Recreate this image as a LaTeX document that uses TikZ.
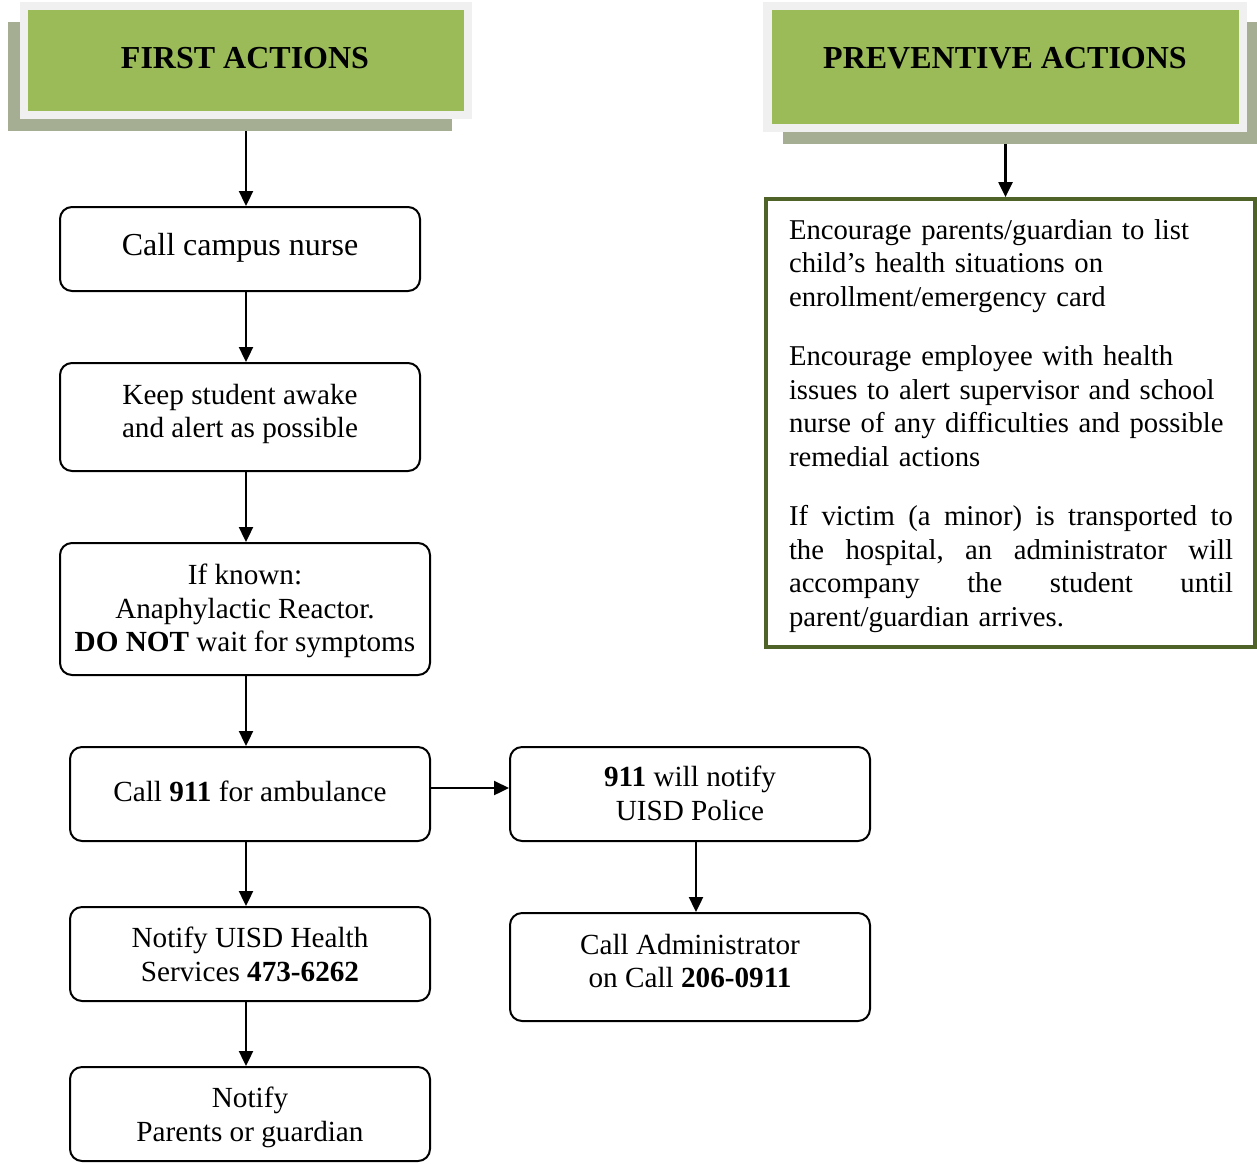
\documentclass[tikz,border=0pt]{standalone}
\usepackage{fontspec}
\setmainfont{Liberation Serif}
\usetikzlibrary{arrows.meta}
\definecolor{hdrgreen}{HTML}{9BBB59}
\definecolor{hdrframe}{HTML}{F0F0F0}
\definecolor{hdrshadow}{HTML}{A5AD93}
\definecolor{olivedark}{HTML}{4F6228}
\newcommand{\bodysize}{\fontsize{29.2}{33.7}\selectfont}
\newcommand{\notesize}{\fontsize{28.7}{33.7}\selectfont}
\newcommand{\fullline}[1]{\leavevmode\hbox to 444pt{#1}}
\begin{document}
\begin{tikzpicture}[x=1pt,y=-1pt,
  stepbox/.style={draw, line width=2pt, rounded corners=12pt, inner sep=0pt},
  steptext/.style={align=center, inner sep=0pt, font=\bodysize},
  hdrshade/.style={fill=hdrshadow, inner sep=0pt},
  hdrrim/.style={fill=hdrframe, inner sep=0pt},
  hdrfill/.style={fill=hdrgreen, inner sep=0pt},
  hdrtext/.style={font=\bfseries\fontsize{32}{38}\selectfont, inner sep=0pt},
  arr/.style={line width=2.3pt, -{Triangle[length=15pt,width=14pt]}}]
\useasboundingbox (0,0) rectangle (1257,1163);

% header: first actions
\node[hdrshade, minimum width=444pt, minimum height=109pt] (h1s) at (230,76.5) {};
\node[hdrrim, minimum width=452pt, minimum height=117pt] (h1f) at (246,60.5) {};
\node[hdrfill, minimum width=436pt, minimum height=101pt] (h1) at (246,60.5) {};
\node[hdrtext] (t1) at (245,58) {FIRST ACTIONS};

% header: preventive actions
\node[hdrshade, minimum width=474pt, minimum height=122pt] (h2s) at (1020,83) {};
\node[hdrrim, minimum width=484pt, minimum height=130pt] (h2f) at (1005,67) {};
\node[hdrfill, minimum width=467pt, minimum height=114pt] (h2) at (1005.5,67) {};
\node[hdrtext] (t2) at (1005,58) {PREVENTIVE ACTIONS};

% preventive notes
\node[draw=olivedark, line width=3.8pt, minimum width=489pt, minimum height=448pt,
  inner sep=0pt] (prev) at (1010.5,423) {};
\node[text width=444pt, align=left, inner sep=0pt, font=\notesize]
  (prevt) at (1011,426) {%
Encourage parents/guardian to list\\
child’s health situations on\\
enrollment/emergency card\\[25.3pt]
Encourage employee with health\\
issues to alert supervisor and school\\
nurse of any difficulties and possible\\
remedial actions\\[25.3pt]
\fullline{If\hfill victim\hfill (a\hfill minor)\hfill is\hfill transported\hfill to}\\
\fullline{the\hfill hospital,\hfill an\hfill administrator\hfill will}\\
\fullline{accompany\hfill the\hfill student\hfill until}\\
parent/guardian arrives.};

% first actions chain
\node[stepbox, minimum width=360pt, minimum height=84pt] (n1) at (240,249) {};
\node[steptext, font=\fontsize{32}{37}\selectfont] (n1t) at (240,248) {Call campus nurse};
\node[stepbox, minimum width=360pt, minimum height=108pt] (n2) at (240,417) {};
\node[steptext] (n2t) at (240,414) {Keep student awake\\and alert as possible};
\node[stepbox, minimum width=370pt, minimum height=132pt] (n3) at (245,609) {};
\node[steptext] (n3t) at (245,611) {If known:\\Anaphylactic Reactor.\\\textbf{DO NOT} wait for symptoms};
\node[stepbox, minimum width=360pt, minimum height=94pt] (n4) at (250,794) {};
\node[steptext] (n4t) at (250,791) {Call \textbf{911} for ambulance};
\node[stepbox, minimum width=360pt, minimum height=94pt] (n5) at (250,954) {};
\node[steptext] (n5t) at (250,954) {Notify UISD Health\\Services \textbf{473-6262}};
\node[stepbox, minimum width=360pt, minimum height=94pt] (n6) at (250,1114) {};
\node[steptext] (n6t) at (250,1117) {Notify\\Parents or guardian};

% side branch
\node[stepbox, minimum width=360pt, minimum height=94pt] (r1) at (690,794) {};
\node[steptext] (r1t) at (690,793) {\textbf{911} will notify\\UISD Police};
\node[stepbox, minimum width=360pt, minimum height=108pt] (r2) at (690,967) {};
\node[steptext] (r2t) at (690,961) {Call Administrator\\on Call \textbf{206-0911}};

% connectors
\coordinate (spine) at (246,0);
\coordinate (rspine) at (696,0);
\coordinate (level) at (0,788);
\draw[arr] (h1s.south -| spine) -- (n1.north -| spine);
\draw[arr] (n1.south -| spine) -- (n2.north -| spine);
\draw[arr] (n2.south -| spine) -- (n3.north -| spine);
\draw[arr] (n3.south -| spine) -- (n4.north -| spine);
\draw[arr] (n4.south -| spine) -- (n5.north -| spine);
\draw[arr] (n5.south -| spine) -- (n6.north -| spine);
\draw[arr] (n4.east |- level) -- (r1.west |- level);
\draw[arr] (r1.south -| rspine) -- (r2.north -| rspine);
\draw[arr] (h2s.south -| h2.center) -- (prev.north -| h2.center);
\end{tikzpicture}
\end{document}
